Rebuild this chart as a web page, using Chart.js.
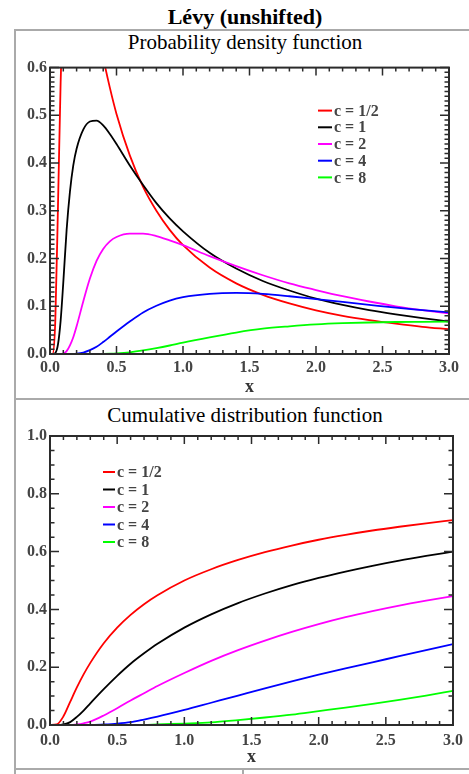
<!DOCTYPE html>
<html lang="en">
<head>
<meta charset="UTF-8">
<title>Lévy (unshifted)</title>
<script src="https://cdn.jsdelivr.net/npm/chart.js"></script>
<style>
  body { margin: 0; background: #fff; width: 469px; height: 774px; overflow: hidden; position: relative;
         font-family: "Liberation Serif", "Times New Roman", serif; color: #000; }
  .title { position: absolute; left: 15px; width: 460px; top: 6px; text-align: center;
           font-weight: bold; font-size: 22px; line-height: 22px; }
  .cap { position: absolute; left: 15px; width: 460px; text-align: center; font-size: 21px; line-height: 21px; }
  .rule { position: absolute; background: #aaa; }
  canvas { position: absolute; left: 0; }
</style>
</head>
<body>

<div class="title">Lévy (unshifted)</div>
<div class="rule" style="left:15px; top:29px; width:454px; height:2px;"></div>
<div class="rule" style="left:14px; top:29px; width:2px; height:745px;"></div>
<div class="rule" style="left:15px; top:398px; width:454px; height:2px;"></div>
<div class="rule" style="left:15px; top:768px; width:454px; height:2px;"></div>
<div class="rule" style="left:242px; top:768px; width:2px; height:6px;"></div>

<div class="cap" style="top:32px;">Probability density function</div>
<div class="cap" style="top:405px;">Cumulative distribution function</div>

<canvas id="pdfChart" width="469" height="345" style="top:55px;"></canvas>
<canvas id="cdfChart" width="469" height="350" style="top:420px;"></canvas>

<script>
    // legend entries and colours
    const seriesLabels = ["c = 1/2", "c = 1", "c = 2", "c = 4", "c = 8"];
    const seriesColors = ["#ff0000", "#000000", "#ff00ff", "#0000ff", "#00ff00"];

    // probability density
    const pdfX = [0, 0.02, 0.04, 0.06, 0.08, 0.1, 0.125, 0.15, 0.175, 0.2, 0.25, 0.3, 0.35, 0.4, 0.45, 0.5,
                  0.6, 0.7, 0.8, 0.9, 1.0, 1.2, 1.4, 1.6, 1.8, 2.0, 2.2, 2.4, 2.6, 2.8, 3.0];
    const pdfHalf = [0, 0.0004, 0.071, 0.31, 0.57, 0.76, 0.9, 0.95, 0.96, 0.94, 0.86, 0.776, 0.694, 0.621, 0.558, 0.503,
                     0.416, 0.35, 0.3, 0.26, 0.228, 0.181, 0.148, 0.124, 0.106, 0.0915, 0.08, 0.071, 0.0635, 0.057, 0.052];
    const pdfOne = [0, 0, 0.002, 0.02, 0.07, 0.15, 0.26, 0.34, 0.395, 0.43, 0.47, 0.487, 0.489, 0.479, 0.461, 0.44,
                    0.395, 0.354, 0.316, 0.284, 0.257, 0.212, 0.179, 0.153, 0.133, 0.116, 0.103, 0.092, 0.083, 0.075, 0.068];
    const pdfTwo = [0, 0, 0, 0, 0, 0.001, 0.006, 0.018, 0.035, 0.058, 0.11, 0.158, 0.195, 0.22, 0.236, 0.245,
                    0.252, 0.252, 0.247, 0.238, 0.228, 0.205, 0.184, 0.165, 0.148, 0.134, 0.121, 0.11, 0.1, 0.092, 0.085];
    const pdfFour = [0, 0, 0, 0, 0, 0, 0, 0, 0, 0.0005, 0.003, 0.008, 0.015, 0.025, 0.036, 0.047,
                     0.068, 0.087, 0.101, 0.112, 0.119, 0.126, 0.128, 0.126, 0.121, 0.115, 0.109, 0.103, 0.097, 0.092, 0.087];
    const pdfEight = [0, 0, 0, 0, 0, 0, 0, 0, 0, 0, 0, 0, 0, 0.0002, 0.0006, 0.0013,
                      0.0036, 0.0074, 0.0122, 0.0178, 0.024, 0.035, 0.045, 0.053, 0.058, 0.062, 0.0645, 0.066, 0.067, 0.0675, 0.068];

    // cumulative distribution
    const cdfX = [0, 0.05, 0.1, 0.15, 0.2, 0.25, 0.3, 0.4, 0.5, 0.6, 0.7, 0.8,
                  1.0, 1.2, 1.4, 1.6, 1.8, 2.0, 2.2, 2.4, 2.6, 2.8, 3.0];
    const cdfHalf = [0, 0.002, 0.03, 0.08, 0.13, 0.175, 0.215, 0.283, 0.337, 0.381, 0.418, 0.449,
                     0.5, 0.539, 0.571, 0.598, 0.621, 0.641, 0.658, 0.673, 0.686, 0.698, 0.709];
    const cdfOne = [0, 0, 0.002, 0.01, 0.028, 0.05, 0.075, 0.124, 0.17, 0.212, 0.248, 0.281,
                    0.337, 0.383, 0.422, 0.455, 0.484, 0.509, 0.531, 0.551, 0.569, 0.585, 0.6];
    const cdfTwo = [0, 0, 0, 0, 0.002, 0.006, 0.012, 0.033, 0.058, 0.085, 0.11, 0.135,
                    0.18, 0.222, 0.259, 0.292, 0.322, 0.349, 0.373, 0.394, 0.413, 0.43, 0.446];
    const cdfFour = [0, 0, 0, 0, 0, 0, 0, 0.002, 0.005, 0.01, 0.019, 0.029,
                     0.052, 0.077, 0.102, 0.127, 0.151, 0.174, 0.196, 0.217, 0.238, 0.259, 0.28];
    const cdfEight = [0, 0, 0, 0, 0, 0, 0, 0, 0, 0, 0, 0.002,
                      0.005, 0.009, 0.017, 0.026, 0.036, 0.048, 0.06, 0.073, 0.087, 0.102, 0.118];

    // axis ranges and tick steps
    const xRange = [0, 3];
    const xMajor = 0.5, xMinor = 0.1;
    const pdfRange = [0, 0.6];
    const pdfMajor = 0.1, pdfMinor = 0.01;
    const cdfRange = [0, 1];
    const cdfMajor = 0.2, cdfMinor = 0.05;

    const serif = "'Liberation Serif', 'Times New Roman', serif";
    const ink = "#2b2b2b";

    // IDL-style box with inward ticks on all four sides
    const frameTicks = {
        id: "frameTicks",
        afterDatasetsDraw(chart, args, o) {
            const { ctx, chartArea: a, scales: { x, y } } = chart;
            const onMajor = (v, step) => Math.abs(v / step - Math.round(v / step)) < 1e-6;
            ctx.save();
            ctx.strokeStyle = ink;
            ctx.lineWidth = 1.5;
            ctx.beginPath();
            const nx = Math.round((x.max - x.min) / o.xMinor);
            for (let i = 0; i <= nx; i++) {
                const v = x.min + i * o.xMinor;
                const px = x.getPixelForValue(v);
                const len = onMajor(v, o.xMajor) ? 8 : 4;
                ctx.moveTo(px, a.bottom); ctx.lineTo(px, a.bottom - len);
                ctx.moveTo(px, a.top); ctx.lineTo(px, a.top + len);
            }
            const ny = Math.round((y.max - y.min) / o.yMinor);
            for (let i = 0; i <= ny; i++) {
                const v = y.min + i * o.yMinor;
                const py = y.getPixelForValue(v);
                const len = onMajor(v, o.yMajor) ? 9 : 4.5;
                ctx.moveTo(a.left, py); ctx.lineTo(a.left + len, py);
                ctx.moveTo(a.right, py); ctx.lineTo(a.right - len, py);
            }
            ctx.stroke();
            ctx.lineWidth = 2;
            ctx.strokeRect(a.left, a.top, a.right - a.left, a.bottom - a.top);
            ctx.restore();
        }
    };

    // small legend drawn inside the plot area
    const boxLegend = {
        id: "boxLegend",
        afterDatasetsDraw(chart, args, o) {
            const { ctx, chartArea: a } = chart;
            ctx.save();
            ctx.font = "bold 16px " + serif;
            ctx.textBaseline = "middle";
            ctx.fillStyle = "#444";
            chart.data.datasets.forEach((ds, i) => {
                const yy = a.top + o.top + i * o.row;
                const xx = a.left + o.left;
                ctx.strokeStyle = ds.borderColor;
                ctx.lineWidth = 2;
                ctx.beginPath();
                ctx.moveTo(xx, yy); ctx.lineTo(xx + o.line, yy);
                ctx.stroke();
                ctx.fillText(ds.label, xx + o.line + 2, yy + 1);
            });
            ctx.restore();
        }
    };

    function makeDatasets(xs, seriesList, order) {
        return seriesList.map((ys, i) => ({
            label: seriesLabels[i],
            data: xs.map((x, k) => ({ x: x, y: ys[k] })),
            borderColor: seriesColors[i],
            borderWidth: 1.8,
            pointRadius: 0,
            fill: false,
            cubicInterpolationMode: "monotone",
            order: order[i]
        }));
    }

    function makeChart(id, datasets, yRange, yStep, yMinorStep, legendPos, xHeight) {
        const tickFont = { family: serif, size: 16, weight: "bold" };
        return new Chart(document.getElementById(id).getContext("2d"), {
            type: "line",
            data: { datasets: datasets },
            options: {
                responsive: false,
                devicePixelRatio: 1,
                animation: false,
                events: [],
                layout: { padding: { top: legendPos.padTop, right: legendPos.padRight, left: 0, bottom: 0 } },
                plugins: {
                    legend: { display: false },
                    tooltip: { enabled: false },
                    frameTicks: { xMajor: xMajor, xMinor: xMinor, yMajor: yStep, yMinor: yMinorStep },
                    boxLegend: legendPos
                },
                scales: {
                    x: {
                        type: "linear",
                        min: xRange[0], max: xRange[1],
                        grid: { display: false, drawTicks: false },
                        border: { display: false },
                        ticks: { stepSize: xMajor, padding: legendPos.xPad, color: "#444", font: tickFont,
                                 maxRotation: 0, callback: v => v.toFixed(1) },
                        title: { display: true, text: "x", color: "#333",
                                 font: { family: serif, size: 18, weight: "bold" },
                                 padding: { top: 0, bottom: 2 } },
                        afterFit: s => { s.height = xHeight; }
                    },
                    y: {
                        type: "linear",
                        min: yRange[0], max: yRange[1],
                        grid: { display: false, drawTicks: false },
                        border: { display: false },
                        ticks: { stepSize: yStep, padding: 3, color: "#444", font: tickFont,
                                 callback: v => v.toFixed(1) },
                        afterFit: s => { s.width = 50; }
                    }
                }
            },
            plugins: [frameTicks, boxLegend]
        });
    }

    makeChart("pdfChart",
        makeDatasets(pdfX, [pdfHalf, pdfOne, pdfTwo, pdfFour, pdfEight], [4, 3, 2, 1, 0]),
        pdfRange, pdfMajor, pdfMinor,
        { padTop: 12, padRight: 20, xPad: 4, left: 268, top: 43, row: 16.7, line: 14 },
        46);

    makeChart("cdfChart",
        makeDatasets(cdfX, [cdfHalf, cdfOne, cdfTwo, cdfFour, cdfEight], [4, 3, 2, 0, 1]),
        cdfRange, cdfMajor, cdfMinor,
        { padTop: 16, padRight: 16, xPad: 6, left: 53, top: 36, row: 17.5, line: 12 },
        45);
</script>

</body>
</html>
